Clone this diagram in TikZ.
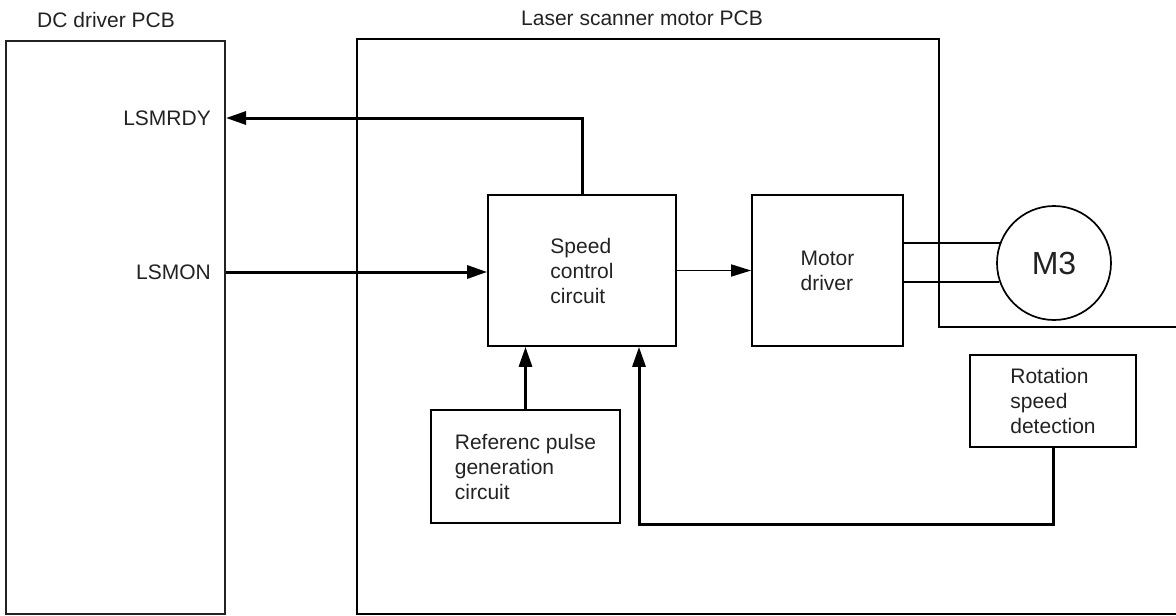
\documentclass[tikz,border=0pt]{standalone}
\usepackage{fontspec}
\setmainfont{Liberation Sans}
\usetikzlibrary{arrows.meta,positioning,calc}
\definecolor{ink}{HTML}{222222}
\tikzset{
  blockbox/.style={draw=black, line width=1.7pt, inner sep=0pt, align=left,
                   text=ink, font=\fontsize{21}{25}\selectfont},
  pcbbox/.style={draw=ink, line width=2pt, inner sep=0pt},
  sig/.style={inner sep=0pt, text=ink, font=\fontsize{21}{25}\selectfont},
  arr/.style={-{Triangle[length=20pt,width=13pt]}, line width=3pt},
  tarr/.style={-{Triangle[length=20pt,width=12pt]}, line width=1.6pt},
  wire/.style={line width=1.6pt}}

\begin{document}
\begin{tikzpicture}[x=1pt,y=-1pt]
  \useasboundingbox (0,0) rectangle (1176,616);
  % boards
  \node[pcbbox, minimum width=219pt, minimum height=573pt] (dc) at (115.5,327.5) {};
  \node[sig, anchor=west] (dclbl) at (37,20) {DC driver PCB};
  \draw[line width=2.6pt] (1176,614) -- (357,614) |- (939,39) |- (1176,327);
  \node[sig, anchor=west] (lsrlbl) at (521,18) {Laser scanner motor PCB};
  % blocks
  \node[blockbox, minimum width=188pt, minimum height=151pt] (speed) at (582,270.5) {Speed\\control\\circuit};
  \node[blockbox, minimum width=151pt, minimum height=151pt] (motor) at (827.5,270.5) {Motor\\driver};
  \node[blockbox, minimum width=189pt, minimum height=113pt] (ref) at (525.5,466.5) {Referenc pulse\\generation\\circuit};
  \node[blockbox, minimum width=166pt, minimum height=92pt] (rot) at (1053,401) {Rotation\\speed\\detection};
  \node[draw, circle, line width=1.7pt, minimum size=114pt, inner sep=0pt, text=ink,
        font=\fontsize{32}{36}\selectfont] (m3) at (1054,263) {M3};
  % signals
  \node[sig, anchor=east] (rdy) at (211,118) {LSMRDY};
  \node[sig, anchor=east] (on) at (211,272) {LSMON};
  \draw[arr] (speed.north) |- (rdy.east -| dc.east);
  \draw[arr] (on.east -| dc.east) -- (on.east -| speed.west);
  \draw[tarr] (speed.east) -- (motor.west);
  \draw[arr] (ref.north) -- (ref.north |- speed.south);
  \coordinate (fb) at (639,524);
  \draw[arr] (rot.south) |- (fb) -- (fb |- speed.south);
  \draw[wire] (m3.160.53) -- (m3.160.53 -| motor.east);
  \draw[wire] (m3.199.47) -- (m3.199.47 -| motor.east);
\end{tikzpicture}
\end{document}
